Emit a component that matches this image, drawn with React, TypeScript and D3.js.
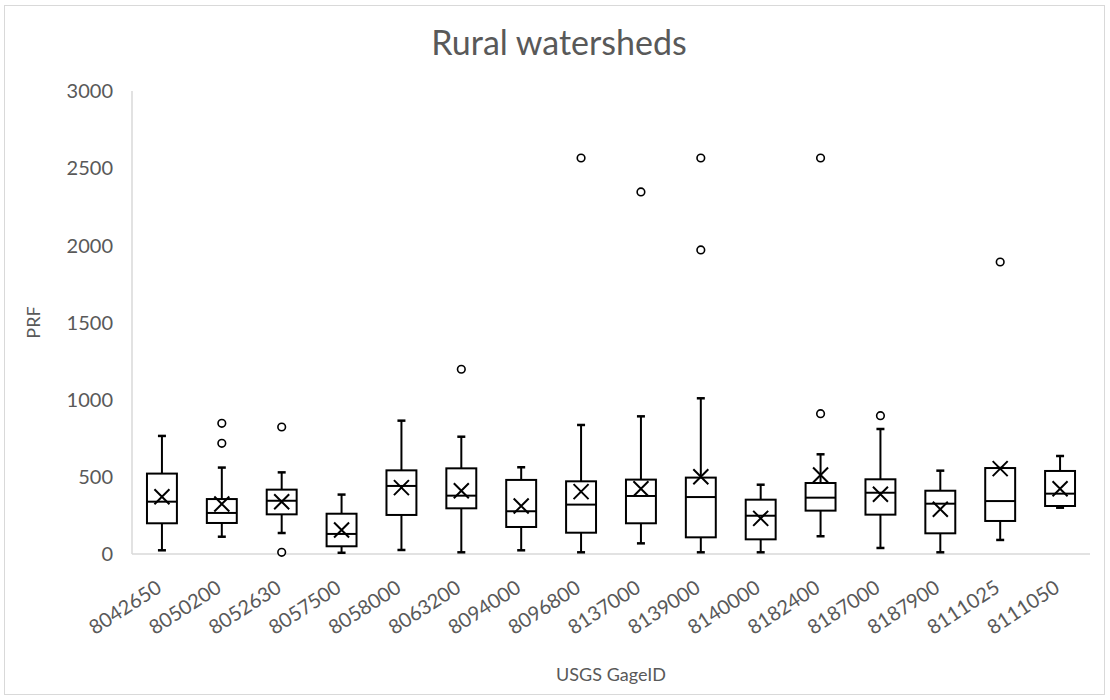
import React from 'react';
import * as d3 from 'd3';

// gage ids along the x axis
const gages = ['8042650', '8050200', '8052630', '8057500', '8058000', '8063200', '8094000', '8096800',
  '8137000', '8139000', '8140000', '8182400', '8187000', '8187900', '8111025', '8111050'];

// box stats
const whiskerLow = [24, 112, 136, 8, 26, 11, 24, 11, 69, 11, 11, 115, 39, 11, 91, 300];
const q1 = [199, 201, 257, 50, 253, 296, 175, 138, 199, 108, 95, 281, 255, 134, 214, 311];
const median = [339, 266, 345, 130, 441, 378, 277, 320, 376, 369, 248, 365, 397, 326, 343, 391];
const q3 = [521, 356, 417, 261, 542, 555, 480, 471, 482, 495, 352, 460, 484, 410, 557, 538];
const whiskerHigh = [765, 560, 529, 385, 864, 760, 562, 836, 892, 1009, 449, 646, 810, 540, 557, 635];
const mean = [371, 324, 339, 156, 430, 410, 311, 404, 423, 501, 231, 512, 387, 290, 553, 423];
const outliers = [[], [847, 717], [823, 11], [], [], [1197], [], [2566], [2346], [2566, 1970], [],
  [2566, 909], [896], [], [1892], []];

const yTicks = [0, 500, 1000, 1500, 2000, 2500, 3000];

const W = 1110, H = 700;
const left = 132, right = 1090, top = 91, bottom = 554;
const font = 'Lato, "Open Sans", sans-serif';
const grey = '#595959';

const App = () => {
  const x = d3.scaleBand().domain(gages).range([left, right]);
  const y = d3.scaleLinear().domain([0, 3000]).range([bottom, top]);
  const bw = x.bandwidth() * 0.5;

  return (
    <svg width={W} height={H} style={{ position: 'absolute', left: 0, top: 0, background: '#fff' }}>
      <rect x={4.5} y={5.5} width={1100} height={689} fill="#fff" stroke="#d9d9d9" />
      <text x={559} y={55} textAnchor="middle" fontFamily={font} fontSize={34} fill={grey}>Rural watersheds</text>

      {/* axes */}
      <line x1={left} x2={left} y1={top} y2={bottom} stroke="#d9d9d9" strokeWidth={1.5} />
      <line x1={left} x2={right} y1={bottom} y2={bottom} stroke="#d9d9d9" strokeWidth={1.5} />
      {yTicks.map(t => (
        <text key={t} x={left - 19} y={y(t)} dy="0.36em" textAnchor="end" fontFamily={font} fontSize={20} fill={grey}>{t}</text>
      ))}
      {gages.map(g => {
        const cx = x(g)! + x.bandwidth() / 2;
        return (
          <text key={g} transform={`translate(${cx + 1},${bottom + 37}) rotate(-33)`} textAnchor="end"
            fontFamily={font} fontSize={20} fill={grey}>{g}</text>
        );
      })}
      <text transform={`translate(40,${(top + bottom) / 2}) rotate(-90)`} textAnchor="middle" fontFamily={font} fontSize={18} fill={grey}>PRF</text>
      <text x={(left + right) / 2} y={681} textAnchor="middle" fontFamily={font} fontSize={18} fill={grey}>USGS GageID</text>

      {/* boxes */}
      {gages.map((g, i) => {
        const cx = x(g)! + x.bandwidth() / 2;
        const cap = 4;
        const m = 7.5;
        return (
          <g key={g} stroke="#000" strokeWidth={2} fill="none">
            <line x1={cx} x2={cx} y1={y(whiskerHigh[i])} y2={y(q3[i])} />
            <line x1={cx} x2={cx} y1={y(q1[i])} y2={y(whiskerLow[i])} />
            <line x1={cx - cap} x2={cx + cap} y1={y(whiskerHigh[i])} y2={y(whiskerHigh[i])} strokeWidth={2.5} />
            <line x1={cx - cap} x2={cx + cap} y1={y(whiskerLow[i])} y2={y(whiskerLow[i])} strokeWidth={2.5} />
            <rect x={cx - bw / 2} y={y(q3[i])} width={bw} height={y(q1[i]) - y(q3[i])} fill="#fff" />
            <line x1={cx - bw / 2} x2={cx + bw / 2} y1={y(median[i])} y2={y(median[i])} />
            <path d={`M${cx - m},${y(mean[i]) - m}L${cx + m},${y(mean[i]) + m}M${cx - m},${y(mean[i]) + m}L${cx + m},${y(mean[i]) - m}`} />
            {outliers[i].map((o, j) => (
              <circle key={j} cx={cx} cy={y(o)} r={3.8} fill="#fff" strokeWidth={1.6} />
            ))}
          </g>
        );
      })}
    </svg>
  );
};

export default App;
